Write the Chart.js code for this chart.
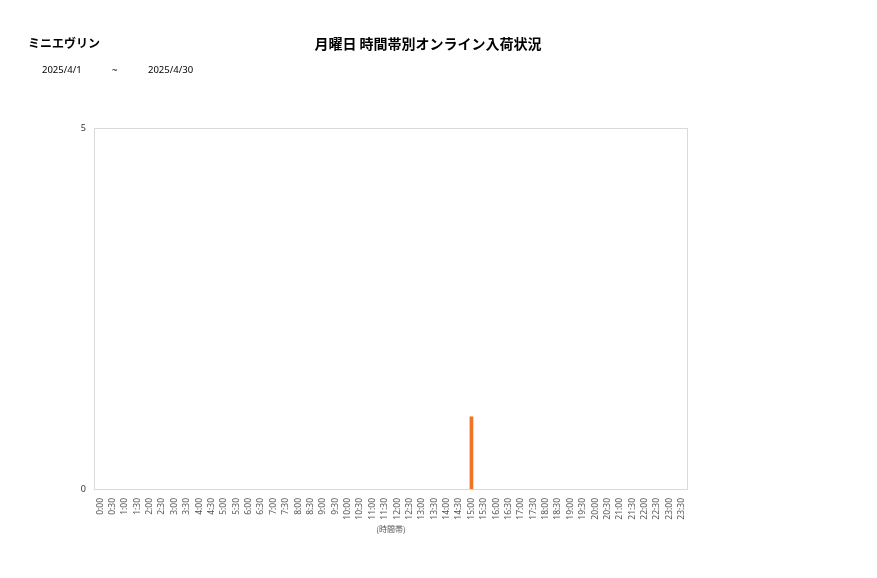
<!DOCTYPE html>
<html>
<head>
<meta charset="utf-8">
<script src="https://cdn.jsdelivr.net/npm/chart.js@4"></script>
<style>
  body { margin: 0; background: #fff; font-family: "Noto Sans CJK JP", sans-serif; }
  #wrap { position: relative; width: 877px; height: 578px; }
  .txt { position: absolute; color: #000; white-space: nowrap; }
  #shop { left: 28px; top: 34px; font-size: 12px; font-weight: bold; }
  #title { left: 0; width: 856px; top: 33px; text-align: center; font-size: 14px; font-weight: bold; }
  .date { top: 63px; font-size: 9.5px; font-family: "Noto Sans", sans-serif; }
</style>
</head>
<body>
<div id="wrap">
  <canvas id="myChart" width="877" height="578"></canvas>
  <div class="txt" id="shop">ミニエヴリン</div>
  <div class="txt" id="title">月曜日 時間帯別オンライン入荷状況</div>
  <div class="txt date" style="left:42px">2025/4/1</div>
  <div class="txt date" style="left:112px">~</div>
  <div class="txt date" style="left:148px">2025/4/30</div>
</div>
<script>
// 時間帯ラベル (0:00 〜 23:30)
const timeLabels = [
  "0:00", "0:30", "1:00", "1:30", "2:00", "2:30", "3:00", "3:30",
  "4:00", "4:30", "5:00", "5:30", "6:00", "6:30", "7:00", "7:30",
  "8:00", "8:30", "9:00", "9:30", "10:00", "10:30", "11:00", "11:30",
  "12:00", "12:30", "13:00", "13:30", "14:00", "14:30", "15:00", "15:30",
  "16:00", "16:30", "17:00", "17:30", "18:00", "18:30", "19:00", "19:30",
  "20:00", "20:30", "21:00", "21:30", "22:00", "22:30", "23:00", "23:30"
];

// 入荷件数
const arrivals = [
  0, 0, 0, 0, 0, 0, 0, 0,
  0, 0, 0, 0, 0, 0, 0, 0,
  0, 0, 0, 0, 0, 0, 0, 0,
  0, 0, 0, 0, 0, 0, 1, 0,
  0, 0, 0, 0, 0, 0, 0, 0,
  0, 0, 0, 0, 0, 0, 0, 0
];

const yTicks = [0, 5];

// 枠線を描くプラグイン
const plotBorder = {
  id: "plotBorder",
  beforeDatasetsDraw(chart) {
    const a = chart.chartArea;
    const ctx = chart.ctx;
    ctx.save();
    ctx.strokeStyle = "#d9d9d9";
    ctx.lineWidth = 1;
    ctx.strokeRect(a.left + 0.5, a.top + 0.5, a.right - a.left - 1, a.bottom - a.top);
    ctx.restore();
  }
};

const ctx = document.getElementById("myChart").getContext("2d");
new Chart(ctx, {
  type: "bar",
  data: {
    labels: timeLabels,
    datasets: [
      {
        label: "入荷数",
        // 0件は描かない
        data: arrivals.map((v) => (v === 0 ? null : v)),
        backgroundColor: "#f07424",
        barThickness: 3,
      },
    ],
  },
  options: {
    responsive: false,
    animation: false,
    layout: { padding: { top: 128, right: 189, bottom: 44, left: 0 } },
    plugins: { legend: { display: false }, tooltip: { enabled: false } },
    scales: {
      x: {
        grid: { display: false },
        border: { display: false },
        ticks: {
          color: "#555",
          font: { size: 8.5, family: "Noto Sans" },
          maxRotation: 90,
          minRotation: 90,
          autoSkip: false,
          padding: 1,
        },
        title: {
          display: true,
          text: "(時間帯)",
          color: "#555",
          font: { size: 8, family: "Noto Sans CJK JP" },
          padding: { top: 0, bottom: 0 },
        },
        afterFit: (scale) => { scale.height = 45; },
      },
      y: {
        min: 0,
        max: 5,
        grid: { display: false },
        border: { display: false },
        afterBuildTicks: (scale) => { scale.ticks = yTicks.map((v) => ({ value: v })); },
        ticks: {
          color: "#333",
          font: { size: 9, family: "Noto Sans" },
          padding: 0,
        },
        afterFit: (scale) => { scale.width = 94; },
      },
    },
  },
  plugins: [plotBorder],
});
</script>
</body>
</html>
